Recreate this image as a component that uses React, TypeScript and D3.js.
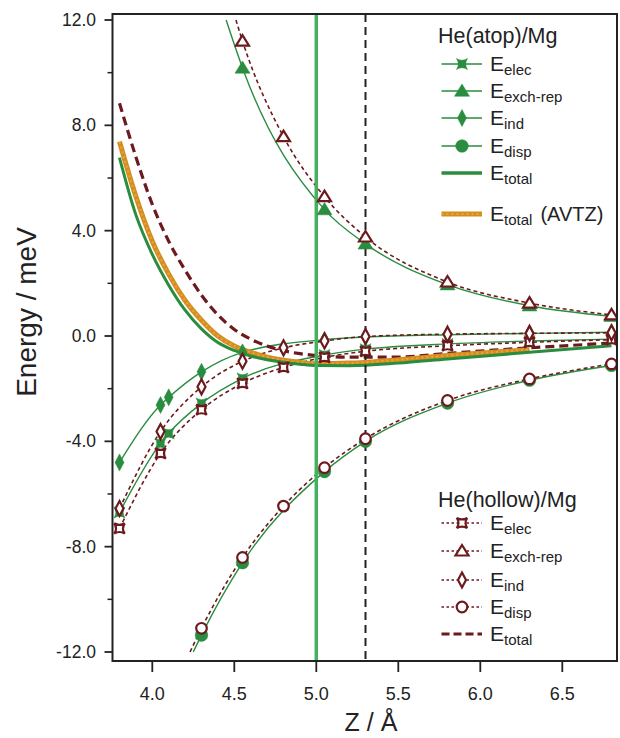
import React from "react";
import * as d3 from "d3";

// ---------- data ----------
const Z_ATOP = [3.8, 4.05, 4.1, 4.3, 4.55, 5.05, 5.3, 5.8, 6.3, 6.8];
const ATOP_ELEC = [-6.7, -4.08, -3.7, -2.56, -1.61, -0.72, -0.5, -0.3, -0.19, -0.12];
const ATOP_EXCH = [null, null, null, null, 10.18, 4.8, 3.5, 1.95, 1.15, 0.75];
const ATOP_IND = [-4.8, -2.62, -2.33, -1.36, -0.62, -0.14, -0.04, 0.05, 0.1, 0.14];
const ATOP_DISP = [null, null, null, -11.36, -8.61, -5.15, -4.0, -2.55, -1.68, -1.12];
const ATOP_EXCH_START = [4.45, 12.0];
const ATOP_DISP_START = [4.25, -12.0];

const Z_HOLLOW = [3.8, 4.05, 4.3, 4.55, 4.8, 5.05, 5.3, 5.8, 6.3, 6.8];
const HOLLOW_ELEC = [-7.31, -4.46, -2.8, -1.8, -1.19, -0.81, -0.58, -0.37, -0.24, -0.14];
const HOLLOW_EXCH = [null, null, null, 11.2, 7.57, 5.29, 3.76, 2.05, 1.25, 0.8];
const HOLLOW_IND = [-6.55, -3.63, -1.93, -0.96, -0.45, -0.19, -0.02, 0.07, 0.1, 0.12];
const HOLLOW_DISP = [null, null, -11.1, -8.41, -6.46, -5.0, -3.9, -2.45, -1.63, -1.06];
const HOLLOW_EXCH_START = [4.51, 12.0];
const HOLLOW_DISP_START = [4.23, -12.0];

const Z_TOTAL = [3.8, 3.9, 4.0, 4.1, 4.2, 4.3, 4.4, 4.5, 4.6, 4.7, 4.8, 4.9, 5.0, 5.2, 5.5, 5.8, 6.3, 6.8];
const ATOP_TOTAL = [6.77, 4.6, 3.1, 1.93, 0.98, 0.27, -0.25, -0.55, -0.76, -0.9, -1.0, -1.07, -1.12, -1.13, -1.03, -0.87, -0.62, -0.37];
const AVTZ_TOTAL = [7.38, 5.3, 3.6, 2.35, 1.35, 0.6, 0.0, -0.38, -0.62, -0.8, -0.92, -1.0, -1.05, -1.03, -0.9, -0.74, -0.52, null];
const HOLLOW_TOTAL = [8.84, 6.8, 5.0, 3.6, 2.5, 1.55, 0.8, 0.25, -0.12, -0.38, -0.56, -0.67, -0.74, -0.8, -0.8, -0.66, -0.45, -0.27];

const Z_ATOP_MIN = 5.0;
const Z_HOLLOW_MIN = 5.3;

const X_TICKS = [4.0, 4.5, 5.0, 5.5, 6.0, 6.5];
const Y_TICKS = [-12, -8, -4, 0, 4, 8, 12];
const Y_MINOR = [-10, -6, -2, 2, 6, 10];

const ATOP_LEGEND = ["elec", "exch-rep", "ind", "disp", "total"];
const HOLLOW_LEGEND = ["elec", "exch-rep", "ind", "disp", "total"];

// ---------- styles ----------
const GREEN = "#2a8c3f";
const VGREEN = "#45b060";
const BROWN = "#6d1a1e";
const ORANGE = "#d68d1f";
const FONT = "'Liberation Sans', Arial, Helvetica, sans-serif";

const L = 112.5, R = 617, T = 14, B = 661;
const x = d3.scaleLinear().domain([4.0, 6.5]).range([152.3, 562.3]);
const y = d3.scaleLinear().domain([12, -12]).range([20, 652]);

type Pt = [number, number];
const pts = (zs: number[], es: (number | null)[], start?: number[]): Pt[] => {
  const out: Pt[] = [];
  if (start) out.push([start[0], start[1]]);
  zs.forEach((z, i) => { const e = es[i]; if (e !== null && e !== undefined) out.push([z, e]); });
  return out;
};
const line = d3.line<Pt>().x(d => x(d[0])).y(d => y(d[1])).curve(d3.curveMonotoneX);

function shapePath(kind: string, big: boolean): string {
  if (kind === "elec") {
    const h = big ? 5.5 : 5.2;
    const c = h * 0.35;
    return `M${-h},${-h} Q0,${-c} ${h},${-h} Q${c},0 ${h},${h} Q0,${c} ${-h},${h} Q${-c},0 ${-h},${-h}Z`;
  }
  if (kind === "exch-rep") {
    const w = big ? 7.5 : 6.5, hh = big ? 7 : 6;
    return `M0,${-hh} L${w},${hh * 0.75} L${-w},${hh * 0.75}Z`;
  }
  if (kind === "ind") {
    const w = big ? 4.5 : 4, hh = big ? 8.5 : 7.5;
    return `M0,${-hh} L${w},0 L0,${hh} L${-w},0Z`;
  }
  const r = big ? 6.3 : 5.3;
  return `M${r},0 A${r},${r} 0 1 1 ${-r},0 A${r},${r} 0 1 1 ${r},0Z`;
}

function Marker({ kind, cx, cy, hollow }: { kind: string; cx: number; cy: number; hollow: boolean }) {
  return (
    <path
      d={shapePath(kind, !hollow)}
      transform={`translate(${cx},${cy})`}
      fill={hollow ? "#fff" : GREEN}
      stroke={hollow ? BROWN : GREEN}
      strokeWidth={hollow ? 2.2 : 0.5}
    />
  );
}

function ELabel({ x0, y0, sub, extra }: { x0: number; y0: number; sub: string; extra?: string }) {
  return (
    <text x={x0} y={y0 + 7} fontFamily={FONT} fontSize={21} fill="#222">
      E<tspan fontSize={15} dy={4}>{sub}</tspan>
      {extra ? <tspan dy={-4} fontSize={20} dx={8}>{extra}</tspan> : null}
    </text>
  );
}

export default function App() {
  const atopSeries = [
    { kind: "elec", data: pts(Z_ATOP, ATOP_ELEC) },
    { kind: "exch-rep", data: pts(Z_ATOP, ATOP_EXCH), start: ATOP_EXCH_START },
    { kind: "ind", data: pts(Z_ATOP, ATOP_IND) },
    { kind: "disp", data: pts(Z_ATOP, ATOP_DISP), start: ATOP_DISP_START },
  ];
  const hollowSeries = [
    { kind: "elec", data: pts(Z_HOLLOW, HOLLOW_ELEC) },
    { kind: "exch-rep", data: pts(Z_HOLLOW, HOLLOW_EXCH), start: HOLLOW_EXCH_START },
    { kind: "ind", data: pts(Z_HOLLOW, HOLLOW_IND) },
    { kind: "disp", data: pts(Z_HOLLOW, HOLLOW_DISP), start: HOLLOW_DISP_START },
  ];
  const lineData = (s: any) => (s.start ? [[s.start[0], s.start[1]] as Pt, ...s.data] : s.data);

  const legX0 = 441.5, legX1 = 482, legMid = 462, legText = 490;
  const atopRows = [64, 91, 118, 146, 173];
  const hollowRows = [523, 551, 580, 607, 634];

  return (
    <svg width={620} height={738} style={{ position: "absolute", left: 0, top: 0, background: "#fff" }}>
      <defs>
        <clipPath id="plot"><rect x={L} y={T} width={R - L} height={B - T} /></clipPath>
      </defs>
      <rect x={0} y={0} width={620} height={738} fill="#fff" />

      <g clipPath="url(#plot)">
        {atopSeries.map(s => (
          <path key={"al" + s.kind} d={line(lineData(s)) || ""} fill="none" stroke={GREEN} strokeWidth={1.4} />
        ))}
        {hollowSeries.map(s => (
          <path key={"hl" + s.kind} d={line(lineData(s)) || ""} fill="none" stroke={BROWN} strokeWidth={1.6} strokeDasharray="4,3" />
        ))}
        <path d={line(pts(Z_TOTAL, HOLLOW_TOTAL)) || ""} fill="none" stroke={BROWN} strokeWidth={3.2} strokeDasharray="9,5" />
        <path d={line(pts(Z_TOTAL, AVTZ_TOTAL)) || ""} fill="none" stroke={ORANGE} strokeWidth={5} />
        <path d={line(pts(Z_TOTAL, AVTZ_TOTAL)) || ""} fill="none" stroke="#e6a640" strokeWidth={2} strokeDasharray="2,3" />
        <path d={line(pts(Z_TOTAL, ATOP_TOTAL)) || ""} fill="none" stroke={GREEN} strokeWidth={3} />
        <line x1={x(Z_ATOP_MIN)} x2={x(Z_ATOP_MIN)} y1={T} y2={B} stroke={VGREEN} strokeWidth={3.5} />
        <line x1={x(Z_HOLLOW_MIN)} x2={x(Z_HOLLOW_MIN)} y1={T} y2={B} stroke="#222" strokeWidth={2} strokeDasharray="8,5" />
        {atopSeries.map(s => s.data.map((d, i) => (
          <Marker key={"am" + s.kind + i} kind={s.kind} cx={x(d[0])} cy={y(d[1])} hollow={false} />
        )))}
        {hollowSeries.map(s => s.data.map((d, i) => (
          <Marker key={"hm" + s.kind + i} kind={s.kind} cx={x(d[0])} cy={y(d[1])} hollow={true} />
        )))}
      </g>

      <rect x={L} y={T} width={R - L} height={B - T} fill="none" stroke="#222" strokeWidth={2} />

      {Y_TICKS.map(t => (
        <g key={"yt" + t}>
          <line x1={L - 8} x2={L} y1={y(t)} y2={y(t)} stroke="#222" strokeWidth={1.8} />
          <text x={96} y={y(t) + 6} textAnchor="end" fontFamily={FONT} fontSize={17.5} fill="#222">{t.toFixed(1)}</text>
        </g>
      ))}
      {Y_MINOR.map(t => (
        <line key={"ym" + t} x1={L - 5} x2={L} y1={y(t)} y2={y(t)} stroke="#222" strokeWidth={1.5} />
      ))}
      {X_TICKS.map(t => (
        <g key={"xt" + t}>
          <line x1={x(t)} x2={x(t)} y1={B} y2={B + 11} stroke="#222" strokeWidth={1.8} />
          <text x={x(t)} y={700} textAnchor="middle" fontFamily={FONT} fontSize={18} fill="#222">{t.toFixed(1)}</text>
        </g>
      ))}
      <text x={371} y={731} textAnchor="middle" fontFamily={FONT} fontSize={25} fill="#222">Z / Å</text>
      <text transform={`translate(36,${312}) rotate(-90)`} textAnchor="middle" fontFamily={FONT} fontSize={28} fill="#222">Energy / meV</text>

      <text x={438} y={43} fontFamily={FONT} fontSize={21.5} fill="#222">He(atop)/Mg</text>
      {ATOP_LEGEND.map((k, i) => {
        const yy = atopRows[i];
        return (
          <g key={"la" + k}>
            {k === "total" ? (
              <line x1={legX0} x2={legX1} y1={yy} y2={yy} stroke={GREEN} strokeWidth={3.5} />
            ) : (
              <>
                <line x1={legX0} x2={legX1} y1={yy} y2={yy} stroke={GREEN} strokeWidth={1.4} />
                <Marker kind={k} cx={legMid} cy={yy} hollow={false} />
              </>
            )}
            <ELabel x0={legText} y0={yy} sub={k} />
          </g>
        );
      })}
      <line x1={legX0} x2={legX1} y1={214} y2={214} stroke={ORANGE} strokeWidth={5} />
      <line x1={legX0} x2={legX1} y1={214} y2={214} stroke="#e6a640" strokeWidth={2} strokeDasharray="2,3" />
      <ELabel x0={legText} y0={214} sub="total" extra="(AVTZ)" />

      <text x={438} y={507} fontFamily={FONT} fontSize={21.5} fill="#222">He(hollow)/Mg</text>
      {HOLLOW_LEGEND.map((k, i) => {
        const yy = hollowRows[i];
        return (
          <g key={"lh" + k}>
            {k === "total" ? (
              <line x1={legX0} x2={legX1} y1={yy} y2={yy} stroke={BROWN} strokeWidth={3.2} strokeDasharray="8,4" />
            ) : (
              <>
                <line x1={legX0} x2={legX1} y1={yy} y2={yy} stroke={BROWN} strokeWidth={1.4} strokeDasharray="2.5,2.5" />
                <Marker kind={k} cx={legMid} cy={yy} hollow={true} />
              </>
            )}
            <ELabel x0={legText} y0={yy} sub={k} />
          </g>
        );
      })}
    </svg>
  );
}
